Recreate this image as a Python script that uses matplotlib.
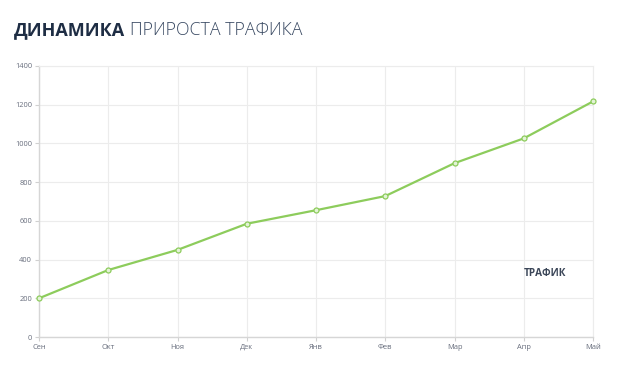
import matplotlib
matplotlib.use("Agg")
import matplotlib.pyplot as plt

months = ["Сен", "Окт", "Ноя", "Дек", "Янв", "Фев", "Мар", "Апр", "Май"]
traffic = [200, 346, 450, 585, 655, 728, 898, 1026, 1217]
y_ticks = [0, 200, 400, 600, 800, 1000, 1200, 1400]
title_bold = "ДИНАМИКА"
title_light = "ПРИРОСТА ТРАФИКА"
series_label = "ТРАФИК"

fig = plt.figure(figsize=(6.24, 3.73), dpi=100)
ax = fig.add_axes([39/624, 1-337/373, (593-39)/624, (337-66)/373])

x = list(range(len(months)))
ax.plot(x, traffic, color="#8dcc5c", lw=1.6, marker="o", ms=3.6,
        mfc="#e3f3d6", mec="#8dcc5c", mew=0.9, zorder=3, clip_on=False)

ax.set_xlim(0, len(months)-1)
ax.set_ylim(0, 1400)
ax.set_xticks(x)
ax.set_xticklabels(months)
ax.set_yticks(y_ticks)
ax.set_yticklabels([str(v) for v in y_ticks])
ax.grid(True, color="#ececec", lw=0.8)
ax.set_axisbelow(True)
for s in ["top", "right"]:
    ax.spines[s].set_color("#ececec")
    ax.spines[s].set_linewidth(0.8)
for s in ["left", "bottom"]:
    ax.spines[s].set_color("#d6d6d6")
    ax.spines[s].set_linewidth(1.0)
ax.tick_params(axis="both", colors="#d0d0d0", labelcolor="#676d7c",
               labelsize=5.4, length=3, width=0.8)
ax.tick_params(axis="x", pad=2)
ax.tick_params(axis="y", pad=2)
for lab in ax.get_xticklabels() + ax.get_yticklabels():
    lab.set_family("Open Sans")

ax.text(524/624, 1-274/373, series_label, transform=fig.transFigure,
        fontsize=7.2, fontweight="bold", color="#3b4658", family="Open Sans",
        va="center", ha="left")

t1 = fig.text(14/624, 1-30/373, title_bold, fontsize=13, fontweight="bold",
              color="#1e2d44", family="Open Sans", va="center", ha="left")
fig.canvas.draw()
bb = t1.get_window_extent()
fig.text((bb.x1 + 5)/624, 1-30/373, title_light, fontsize=12.8, fontweight="light",
         color="#3a4a63", family="Open Sans", va="center", ha="left")

fig.savefig("out.png", dpi=100)
